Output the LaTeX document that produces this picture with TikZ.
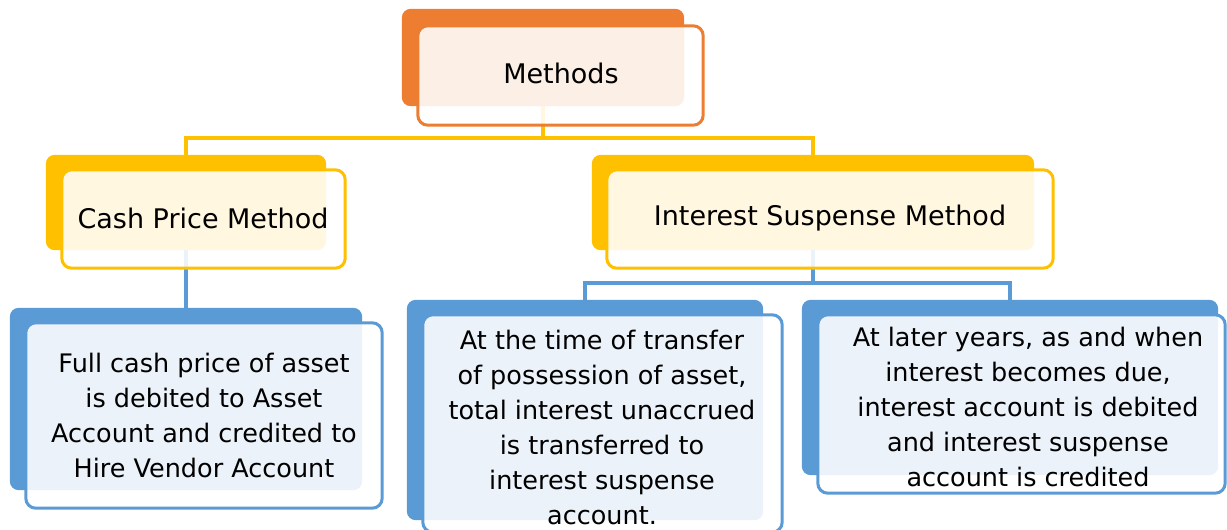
\documentclass[tikz,border=0pt]{standalone}
\usepackage{fontspec}
\setmainfont{DejaVu Sans}
\definecolor{orangeA}{HTML}{ED7D31}
\definecolor{goldA}{HTML}{FFC000}
\definecolor{blueA}{HTML}{5B9BD5}
\begin{document}
\begin{tikzpicture}[x=1pt,y=-1pt,
  frontbox/.style={draw=#1, line width=3pt, fill=white, fill opacity=0.88,
    draw opacity=1, rounded corners=10pt, inner sep=0pt},
  head/.style={font=\fontsize{27}{32}\selectfont, inner sep=0pt},
  body/.style={font=\fontsize{25.5}{35}\selectfont, align=center, inner sep=0pt},
  link/.style={draw=#1, line width=3.2pt},
]
\useasboundingbox (0,0) rectangle (1227,530);
\clip (0,0) rectangle (1227,530);

% back plates (positions only, drawn later over the connectors)
\path
  (543,57.5)  node[minimum width=282pt, minimum height=97pt]  (mB) {}
  (186,202.5) node[minimum width=280pt, minimum height=95pt]  (cB) {}
  (813,202.5) node[minimum width=442pt, minimum height=95pt]  (iB) {}
  (186,399)   node[minimum width=352pt, minimum height=182pt] (fB) {}
  (585,410)   node[minimum width=356pt, minimum height=220pt] (tB) {}
  (1010,387.5) node[minimum width=416pt, minimum height=175pt] (lB) {};

% front frames
\path
  (560.5,75.5) node[minimum width=285pt, minimum height=99pt]  (mF) {}
  (203.5,219)  node[minimum width=283pt, minimum height=98pt]  (cF) {}
  (830,219)    node[minimum width=446pt, minimum height=98pt]  (iF) {}
  (204,415.5)  node[minimum width=356pt, minimum height=185pt] (fF) {}
  (602.5,423.5) node[minimum width=359pt, minimum height=217pt] (tF) {}
  (1021.5,404) node[minimum width=407pt, minimum height=178pt] (lF) {};

% connectors
\coordinate (bus1) at (0,138);
\coordinate (bus2) at (0,283);
\draw[link=goldA] (mB.center) -- (mB.center |- bus1) -| (cB.north);
\draw[link=goldA] (mB.center |- bus1) -| (iB.north);
\draw[link=blueA] (cB.center) -- (fB.north);
\draw[link=blueA] (iB.center) -- (iB.center |- bus2) -| (tB.north);
\draw[link=blueA] (iB.center |- bus2) -| (lB.north);

% plates
\foreach \n/\c in {mB/orangeA, cB/goldA, iB/goldA, fB/blueA, tB/blueA, lB/blueA}
  \fill[\c, rounded corners=9pt] (\n.north west) rectangle (\n.south east);

% frames, white and slightly see-through
\foreach \n/\c in {mF/orangeA, cF/goldA, iF/goldA, fF/blueA, tF/blueA, lF/blueA}
  \draw[frontbox=\c] (\n.north west) rectangle (\n.south east);

% texts
\node[head] (mT) at (561,73) {Methods};
\node[head] (cT) at (203,218) {Cash Price Method};
\node[head] (iT) at (830,218) {Interest Suspense Method};
\node[body] (fT) at (204,415.5) {Full cash price of asset\\is debited to Asset\\Account and credited to\\Hire Vendor Account};
\node[body] (tT) at (602,427.5) {At the time of transfer\\of possession of asset,\\total interest unaccrued\\is transferred to\\interest suspense\\account.};
\node[body] (lT) at (1028,407) {At later years, as and when\\interest becomes due,\\interest account is debited\\and interest suspense\\account is credited};
\end{tikzpicture}
\end{document}
